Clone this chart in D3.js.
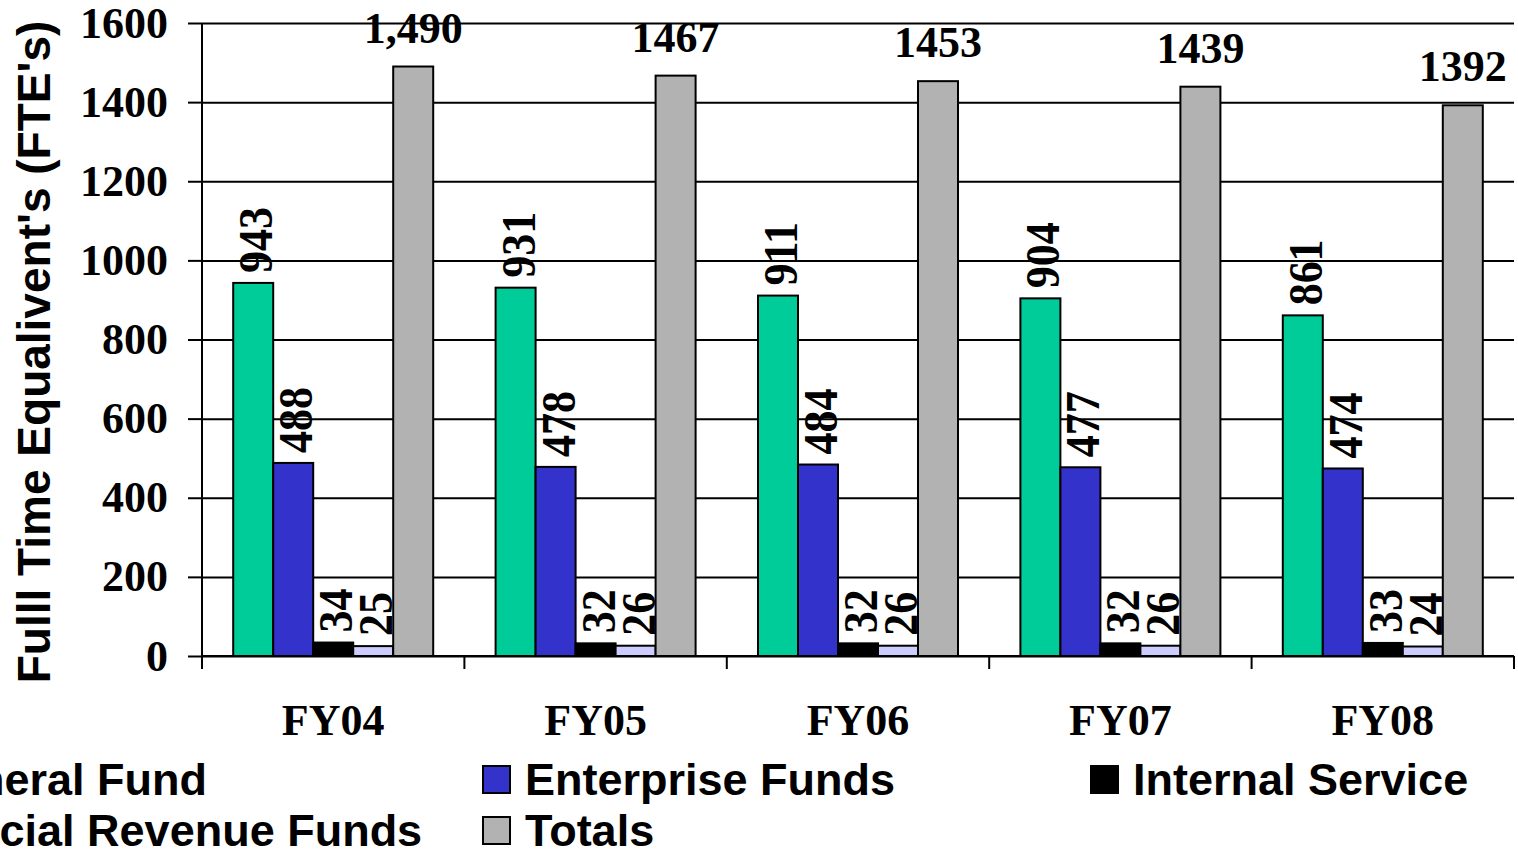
<!DOCTYPE html>
<html>
<head>
<meta charset="utf-8">
<script src="https://d3js.org/d3.v7.min.js"></script>
<style>
  body { margin: 0; background: #fff; overflow: hidden; }
  svg { display: block; }
</style>
</head>
<body>
<div id="chart"></div>
<script>
// data
var years = ["FY04", "FY05", "FY06", "FY07", "FY08"];
var seriesNames = ["General Fund", "Enterprise Funds", "Internal Service", "Special Revenue Funds", "Totals"];
var generalFund = [943, 931, 911, 904, 861];
var enterpriseFunds = [488, 478, 484, 477, 474];
var internalService = [34, 32, 32, 32, 33];
var specialRevenue = [25, 26, 26, 26, 24];
var totals = [1490, 1467, 1453, 1439, 1392];
var totalLabels = ["1,490", "1467", "1453", "1439", "1392"];
var yTicks = [0, 200, 400, 600, 800, 1000, 1200, 1400, 1600];

var colors = ["#00cc99", "#3333cc", "#000000", "#ccccff", "#b2b2b2"];
var serif = "'Liberation Serif', 'Times New Roman', serif";
var sans = "'Liberation Sans', Arial, sans-serif";

var W = 1518, H = 856;
var margin = {top: 23, right: 4, bottom: 200, left: 202},
    width = W - margin.left - margin.right,
    height = H - margin.top - margin.bottom;

var svg = d3.select("#chart")
  .append("svg")
  .attr("width", W)
  .attr("height", H)
  .append("g")
    .attr("transform", "translate(" + margin.left + "," + margin.top + ")");

// scales
var x = d3.scaleBand()
    .domain(years)
    .range([0, width])
    .padding(0);

var xs = d3.scaleBand()
    .domain(seriesNames)
    .range([0, x.bandwidth()])
    .paddingInner(0)
    .paddingOuter(0.78);

var y = d3.scaleLinear()
    .domain([0, 1600])
    .range([height, 0]);

// gridlines
svg.append("g")
  .call(d3.axisLeft(y).tickValues(yTicks).tickSize(-width).tickFormat(""))
  .call(function(g) { g.select(".domain").remove(); })
  .selectAll("line")
    .attr("stroke", "#000")
    .attr("stroke-width", 2);

// y axis with outside ticks and labels
var yAxis = svg.append("g")
  .call(d3.axisLeft(y).tickValues(yTicks).tickFormat(d3.format("d")).tickSize(14).tickPadding(20).tickSizeOuter(0));
yAxis.select(".domain").remove();
yAxis.selectAll("line").attr("stroke", "#000").attr("stroke-width", 2);
yAxis.selectAll("text")
  .attr("font-family", serif)
  .attr("font-weight", "bold")
  .attr("font-size", 44)
  .attr("fill", "#000");

// table of bar values
var table = years.map(function(yr, i) {
  return {
    year: yr,
    values: [generalFund[i], enterpriseFunds[i], internalService[i], specialRevenue[i], totals[i]],
    labels: [generalFund[i], enterpriseFunds[i], internalService[i], specialRevenue[i], totalLabels[i]].map(String)
  };
});

var groups = svg.selectAll(".grp")
  .data(table)
  .enter().append("g")
    .attr("class", "grp")
    .attr("transform", function(d) { return "translate(" + x(d.year) + ",0)"; });

groups.selectAll("rect")
  .data(function(d) { return d.values.map(function(v, k) { return {name: seriesNames[k], value: v, k: k}; }); })
  .enter().append("rect")
    .attr("x", function(d) { return xs(d.name); })
    .attr("y", function(d) { return y(d.value); })
    .attr("width", xs.bandwidth())
    .attr("height", function(d) { return height - y(d.value); })
    .attr("fill", function(d) { return colors[d.k]; })
    .attr("stroke", "#000")
    .attr("stroke-width", 2);

// rotated labels for the four funds
groups.selectAll(".vlab")
  .data(function(d) { return d.values.slice(0, 4).map(function(v, k) { return {name: seriesNames[k], value: v, label: d.labels[k]}; }); })
  .enter().append("text")
    .attr("class", "vlab")
    .attr("transform", function(d) {
      var cx = xs(d.name) + xs.bandwidth() / 2;
      return "translate(" + (cx + 19) + "," + (y(d.value) - 10) + ") rotate(-90) scale(1,1.12)";
    })
    .attr("text-anchor", "start")
    .attr("font-family", serif)
    .attr("font-weight", "bold")
    .attr("font-size", 44)
    .text(function(d) { return d.label; });

// horizontal labels on totals
groups.append("text")
  .attr("x", xs("Totals") + xs.bandwidth() / 2)
  .attr("y", function(d) { return y(d.values[4]) - 24; })
  .attr("text-anchor", "middle")
  .attr("font-family", serif)
  .attr("font-weight", "bold")
  .attr("font-size", 44)
  .text(function(d) { return d.labels[4]; });

// x axis line
svg.append("line")
  .attr("x1", 0).attr("x2", width)
  .attr("y1", height).attr("y2", height)
  .attr("stroke", "#000").attr("stroke-width", 2);

// y axis line
svg.append("line")
  .attr("x1", 0).attr("x2", 0)
  .attr("y1", 0).attr("y2", height + 13)
  .attr("stroke", "#000").attr("stroke-width", 2);

// category boundary ticks
svg.selectAll(".xtick")
  .data(years.map(function(d) { return x(d); }).concat([width]))
  .enter().append("line")
    .attr("x1", function(d) { return d; }).attr("x2", function(d) { return d; })
    .attr("y1", height).attr("y2", height + 13)
    .attr("stroke", "#000").attr("stroke-width", 2);

// category labels
var xAxis = svg.append("g")
  .attr("transform", "translate(0," + height + ")")
  .call(d3.axisBottom(x).tickSize(0).tickPadding(0));
xAxis.select(".domain").remove();
xAxis.selectAll("text")
  .attr("dy", null)
  .attr("y", 79)
  .attr("font-family", serif)
  .attr("font-weight", "bold")
  .attr("font-size", 44)
  .attr("fill", "#000");

// y title
svg.append("text")
  .attr("transform", "translate(" + (50 - margin.left) + "," + (352 - margin.top) + ") rotate(-90)")
  .attr("text-anchor", "middle")
  .attr("font-family", sans)
  .attr("font-weight", "bold")
  .attr("font-size", 46)
  .text("Fulll Time Equalivent's (FTE's)");

// legend, three columns, partly cut off at the left edge like the original
var legend = d3.select("svg").append("g");
var legItems = legend.selectAll(".leg")
  .data(seriesNames)
  .enter().append("g")
    .attr("class", "leg")
    .attr("transform", function(d, i) {
      var col = i % 3, row = Math.floor(i / 3);
      return "translate(" + (-125 + col * 608) + "," + (766 + row * 51) + ")";
    });

legItems.append("rect")
  .attr("width", 27)
  .attr("height", 27)
  .attr("fill", function(d, i) { return colors[i]; })
  .attr("stroke", "#000")
  .attr("stroke-width", 2);

legItems.append("text")
  .attr("x", 42)
  .attr("y", 29)
  .attr("font-family", sans)
  .attr("font-weight", "bold")
  .attr("font-size", 45)
  .text(function(d) { return d; });
</script>
</body>
</html>
